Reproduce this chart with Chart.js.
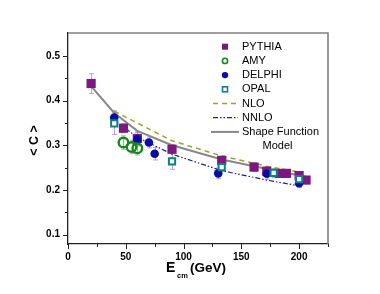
<!DOCTYPE html>
<html lang="en">
<head>
  <meta charset="UTF-8">
  <title>&lt;C&gt; vs Ecm</title>
  <script src="https://cdn.jsdelivr.net/npm/chart.js"></script>
  <style>
    html, body { margin: 0; padding: 0; background: #fff; }
  </style>
</head>
<body>
  <canvas class="chart" width="380" height="294"></canvas>

<script>
  // values
  const pythiaE = [20, 48, 60, 90, 133, 161, 172, 183, 189, 200, 206];
  const pythiaC = [0.438, 0.338, 0.315, 0.291, 0.266, 0.251, 0.242, 0.237, 0.237, 0.232, 0.222];
  const pythiaErr = [0.022, 0.01, 0.015, 0.01, 0.01, 0.01, 0.01, 0.008, 0.008, 0.008, 0.008];

  const amyE = [48, 55, 60];
  const amyC = [0.306, 0.296, 0.293];
  const amyErr = [0.015, 0.015, 0.015];

  const delphiE = [40, 60, 70, 75, 130, 172, 200];
  const delphiC = [0.362, 0.313, 0.306, 0.281, 0.237, 0.236, 0.215];
  const delphiErr = [0.015, 0.015, 0.012, 0.014, 0.012, 0.012, 0.01];

  const opalE = [40, 90, 133, 178, 200];
  const opalC = [0.349, 0.264, 0.251, 0.238, 0.224];
  const opalErr = [0.025, 0.018, 0.01, 0.01, 0.01];

  const nloE = [40, 90, 133, 172, 200];
  const nloC = [0.376, 0.31, 0.276, 0.253, 0.24];

  const nnloE = [40, 60, 90, 133, 172, 200];
  const nnloC = [0.356, 0.318, 0.28, 0.243, 0.222, 0.209];

  const shapeE = [20, 40, 60, 90, 133, 161, 183, 207];
  const shapeC = [0.432, 0.372, 0.332, 0.3, 0.268, 0.253, 0.241, 0.229];

  const xTicks = [0, 25, 50, 75, 100, 125, 150, 175, 200, 225];
  const xLabels = [0, 50, 100, 150, 200];
  const yTicks = [0.1, 0.15, 0.2, 0.25, 0.3, 0.35, 0.4, 0.45, 0.5];
  const yLabels = [0.1, 0.2, 0.3, 0.4, 0.5];

  const legendRows = [
    ['PYTHIA'], ['AMY'], ['DELPHI'], ['OPAL'], ['NLO'], ['NNLO'], ['Shape Function', 'Model']
  ];

  const FONT = "'Liberation Sans', Arial, sans-serif";
  Chart.defaults.font.family = FONT;

  const pts = (xs, ys) => xs.map((x, i) => ({ x: x, y: ys[i] }));
  const isMajor = (list, v) => list.some(m => Math.abs(m - v) < 1e-9);

  // datasets, first one is drawn on top
  const opalSet = {
    label: 'OPAL', data: pts(opalE, opalC), errors: opalErr,
    pointStyle: 'rect', pointRadius: 4.4, borderWidth: 2,
    borderColor: '#0f8080', backgroundColor: '#ffffff'
  };
  const amySet = {
    label: 'AMY', data: pts(amyE, amyC), errors: amyErr,
    pointStyle: 'circle', pointRadius: 4.8, borderWidth: 2.4,
    borderColor: '#138a13', backgroundColor: 'rgba(255,255,255,0)'
  };
  const delphiSet = {
    label: 'DELPHI', data: pts(delphiE, delphiC), errors: delphiErr,
    pointStyle: 'circle', pointRadius: 4.3, borderWidth: 0,
    borderColor: '#0a0aa6', backgroundColor: '#0a0aa6'
  };
  const pythiaSet = {
    label: 'PYTHIA', data: pts(pythiaE, pythiaC), errors: pythiaErr,
    pointStyle: 'rect', pointRadius: 6.5, borderWidth: 0,
    borderColor: '#7a1a7e', backgroundColor: '#7a1a7e'
  };
  const shapeSet = {
    label: 'Shape Function Model', data: pts(shapeE, shapeC), showLine: true,
    pointRadius: 0, borderColor: '#888888', borderWidth: 2, tension: 0
  };
  const nloSet = {
    label: 'NLO', data: pts(nloE, nloC), showLine: true,
    pointRadius: 0, borderColor: '#a2a236', borderWidth: 1.5, borderDash: [5, 4]
  };
  const nnloSet = {
    label: 'NNLO', data: pts(nnloE, nnloC), showLine: true,
    pointRadius: 0, borderColor: '#1c1c9c', borderWidth: 1.2, borderDash: [5, 2, 1.5, 2, 1.5, 2]
  };

  // error bars under the markers
  const errorBars = {
    id: 'errorBars',
    beforeDatasetsDraw(chart) {
      const { ctx, scales: { x, y } } = chart;
      ctx.save();
      ctx.strokeStyle = 'rgba(170,130,185,0.75)';
      ctx.lineWidth = 1;
      chart.data.datasets.forEach(ds => {
        if (!ds.errors) return;
        ds.data.forEach((p, i) => {
          const px = Math.round(x.getPixelForValue(p.x)) + 0.5;
          const y1 = y.getPixelForValue(p.y + ds.errors[i]);
          const y2 = y.getPixelForValue(p.y - ds.errors[i]);
          ctx.beginPath();
          ctx.moveTo(px, y1); ctx.lineTo(px, y2);
          ctx.moveTo(px - 2.5, y1); ctx.lineTo(px + 2.5, y1);
          ctx.moveTo(px - 2.5, y2); ctx.lineTo(px + 2.5, y2);
          ctx.stroke();
        });
      });
      ctx.restore();
    }
  };

  // frame, tick marks, axis titles, legend
  const decorations = {
    id: 'decorations',
    afterDraw(chart) {
      const { ctx, chartArea: a, scales: { x, y } } = chart;
      ctx.save();

      // grey top and right border
      ctx.strokeStyle = '#808080';
      ctx.lineWidth = 1.6;
      ctx.beginPath();
      ctx.moveTo(a.left, a.top); ctx.lineTo(a.right, a.top); ctx.lineTo(a.right, a.bottom);
      ctx.stroke();

      // tick marks
      ctx.strokeStyle = '#222';
      ctx.lineWidth = 1;
      ctx.beginPath();
      xTicks.forEach(v => {
        const px = Math.round(x.getPixelForValue(v)) + 0.5;
        const len = isMajor(xLabels, v) ? 5 : 3;
        ctx.moveTo(px, a.bottom); ctx.lineTo(px, a.bottom + len);
      });
      yTicks.forEach(v => {
        const py = Math.round(y.getPixelForValue(v)) + 0.5;
        const len = isMajor(yLabels, v) ? 5 : 3;
        ctx.moveTo(a.left, py); ctx.lineTo(a.left - len, py);
      });
      ctx.stroke();

      // axis titles
      ctx.fillStyle = '#000';
      ctx.textBaseline = 'alphabetic';
      ctx.textAlign = 'left';
      ctx.font = 'bold 14px ' + FONT;
      ctx.fillText('E', 166, 272);
      ctx.font = 'bold 7.5px ' + FONT;
      ctx.fillText('cm', 177, 277.5);
      ctx.font = 'bold 13.5px ' + FONT;
      ctx.fillText('(GeV)', 190, 272);

      ctx.save();
      ctx.translate(38, (a.top + a.bottom) / 2 + 2);
      ctx.rotate(-Math.PI / 2);
      ctx.textAlign = 'center';
      ctx.font = 'bold 12.5px ' + FONT;
      ctx.fillText('< C >', 0, 0);
      ctx.restore();

      // legend
      const mx = 225, tx = 242, y0 = 46.7, dy = 14.2;
      ctx.font = '11px ' + FONT;
      ctx.textBaseline = 'middle';
      legendRows.forEach((lines, i) => {
        const ry = y0 + i * dy;
        ctx.fillStyle = '#000';
        ctx.textAlign = 'left';
        ctx.fillText(lines[0], tx, ry);
        if (lines[1]) {
          const w = ctx.measureText(lines[0]).width;
          ctx.textAlign = 'center';
          ctx.fillText(lines[1], tx + w / 2 - 3, ry + dy);
        }
      });
      // markers
      ctx.fillStyle = pythiaSet.backgroundColor;
      ctx.fillRect(mx - 3, y0 - 3, 6, 6);
      ctx.lineWidth = 1.6;
      ctx.strokeStyle = amySet.borderColor;
      ctx.beginPath(); ctx.arc(mx, y0 + dy, 2.6, 0, Math.PI * 2); ctx.stroke();
      ctx.fillStyle = delphiSet.backgroundColor;
      ctx.beginPath(); ctx.arc(mx, y0 + 2 * dy, 3.2, 0, Math.PI * 2); ctx.fill();
      ctx.strokeStyle = opalSet.borderColor;
      ctx.strokeRect(mx - 2.5, y0 + 3 * dy - 2.5, 5, 5);
      // line samples
      const sample = (ds, row, x1, x2) => {
        ctx.strokeStyle = ds.borderColor;
        ctx.lineWidth = ds.borderWidth;
        ctx.setLineDash(ds.borderDash || []);
        ctx.beginPath();
        ctx.moveTo(x1, y0 + row * dy); ctx.lineTo(x2, y0 + row * dy);
        ctx.stroke();
      };
      sample(nloSet, 4, 213, 238);
      sample(nnloSet, 5, 213, 238);
      sample(shapeSet, 6, 211, 239);
      ctx.restore();
    }
  };

  const ctx = document.querySelector('.chart').getContext('2d');
  new Chart(ctx, {
    type: 'scatter',
    data: {
      datasets: [opalSet, amySet, delphiSet, pythiaSet, shapeSet, nloSet, nnloSet]
    },
    options: {
      responsive: false,
      animation: false,
      devicePixelRatio: 1,
      layout: { padding: { top: 33, right: 52, left: 0, bottom: 0 } },
      plugins: {
        legend: { display: false },
        tooltip: { enabled: false }
      },
      scales: {
        x: {
          type: 'linear', min: 0, max: 225,
          afterFit: s => { s.height = 50; },
          afterBuildTicks: s => { s.ticks = xTicks.map(v => ({ value: v })); },
          grid: { display: false, drawTicks: true, tickLength: 5 },
          border: { display: true, color: '#222', width: 1.3 },
          ticks: {
            padding: 2, color: '#000',
            font: { size: 10, weight: 'bold' },
            maxRotation: 0, autoSkip: false,
            callback: v => isMajor(xLabels, v) ? String(v) : ''
          }
        },
        y: {
          type: 'linear', min: 0.079, max: 0.551,
          afterFit: s => { s.width = 68; },
          afterBuildTicks: s => { s.ticks = yTicks.map(v => ({ value: v })); },
          grid: { display: false, drawTicks: true, tickLength: 5 },
          border: { display: true, color: '#222', width: 1.3 },
          ticks: {
            padding: 3, color: '#000',
            font: { size: 10, weight: 'bold' },
            autoSkip: false,
            callback: v => isMajor(yLabels, v) ? v.toFixed(1) : ''
          }
        }
      }
    },
    plugins: [errorBars, decorations]
  });
</script>
</body>
</html>
